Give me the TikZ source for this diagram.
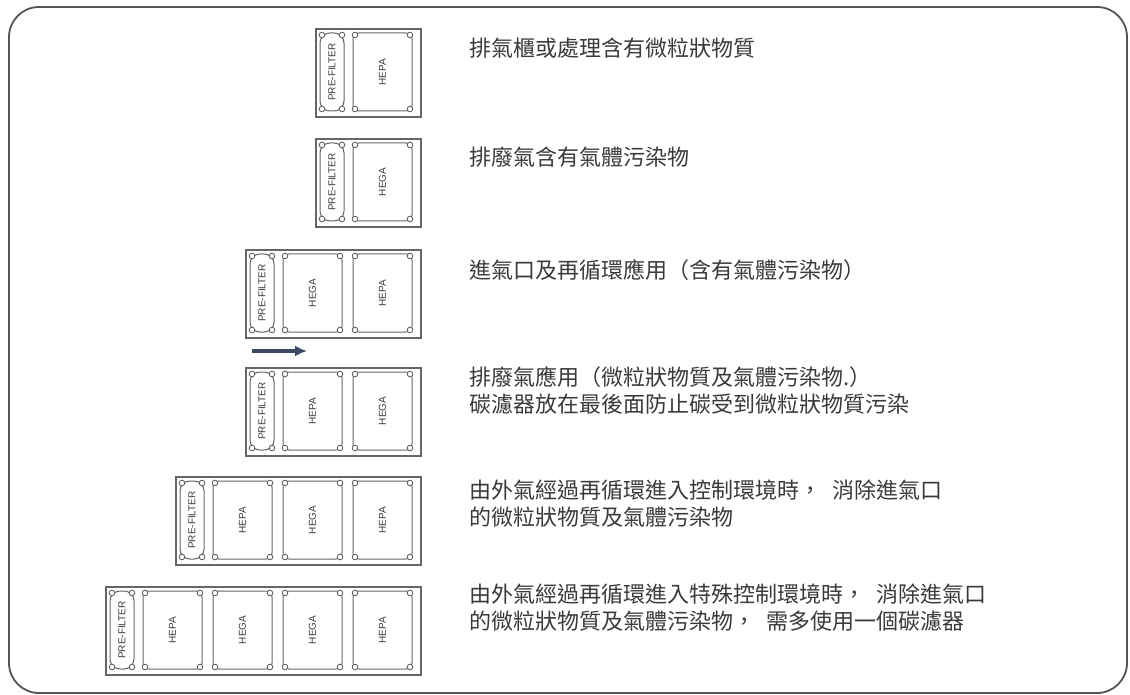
\documentclass[tikz,border=0pt]{standalone}
\usepackage{fontspec}
\setmainfont{Liberation Sans}
\newfontfamily\cjk{Noto Sans CJK TC}
\usetikzlibrary{arrows.meta,calc}

\definecolor{framegray}{HTML}{555555}
\definecolor{linegray}{HTML}{666666}
\definecolor{textgray}{HTML}{3A3A3A}
\definecolor{arrowblue}{HTML}{3B4A63}

\tikzset{
  frame/.style={draw=framegray, line width=1.8pt, rounded corners=30pt},
  bank/.style={draw=linegray, line width=1.6pt},
  panel/.style={draw=linegray, line width=1pt, rounded corners=6pt},
  prefilter/.style={draw=linegray, line width=1pt, rounded corners=10pt},
  bolt/.style={draw=linegray, fill=white, line width=0.9pt},
  tag/.style={rotate=90, inner sep=0pt, text=textgray, font=\fontsize{10}{10}\selectfont},
  note/.style={anchor=west, align=left, inner sep=0pt, text=textgray, font=\cjk\fontsize{22}{27}\selectfont},
  flow/.style={draw=arrowblue, line width=3.4pt, -{Latex[length=12pt,width=11pt]}},
}

% comma with the wide gap of the original lettering
\newcommand{\wcomma}{，\hspace{0.5em}}

% #1 name, #2 top edge, #3 number of panels, #4 panel labels
\newcommand{\filterbank}[4]{%
  \pgfmathsetmacro\bankL{420-35-70*#3}
  \begin{scope}[shift={(\bankL,#2)}]
    \pgfmathsetmacro\bankW{35+70*#3}
    \node[bank, anchor=north west, minimum width=\bankW pt, minimum height=88pt] (#1) at (0,0) {};
    \draw[prefilter] (5,5) rectangle (29,83);
    \foreach \bx/\by in {7/7, 27/7, 7/81, 27/81}
      \draw[bolt] (\bx,\by) circle (2.8pt);
    \node[tag] (#1-pre) at (17,44) {PRE-FILTER};
    \foreach \lab [count=\i from 0] in {#4} {
      \pgfmathsetmacro\px{38+70*\i}
      \draw[panel] (\px,5) rectangle ++(59,78);
      \foreach \bx/\by in {2/2, 57/2, 2/76, 57/76}
        \draw[bolt] ($(\px,5)+(\bx,\by)$) circle (2.8pt);
      \node[tag] (#1-\i) at (\px+29.5,44) {\lab};
    }
  \end{scope}
}

\begin{document}
\begin{tikzpicture}[x=1pt, y=-1pt]
  \fill[white] (0,0) rectangle (1130,695);
  \useasboundingbox (0,0) rectangle (1130,695);
  \draw[frame] (9,7) rectangle (1127,693);

  % filter banks
  \filterbank{bankA}{28}{1}{HEPA}
  \filterbank{bankB}{138}{1}{HEGA}
  \filterbank{bankC}{249}{2}{HEGA, HEPA}
  \filterbank{bankD}{367}{2}{HEPA, HEGA}
  \filterbank{bankE}{476}{3}{HEPA, HEGA, HEPA}
  \filterbank{bankF}{586}{4}{HEPA, HEGA, HEGA, HEPA}

  % air flow
  \coordinate (flowtail) at (252,351);
  \coordinate (flowhead) at (307,351);
  \draw[flow] (flowtail) -- (flowhead);

  % notes
  \node[note] (noteA) at (469,48) {排氣櫃或處理含有微粒狀物質};
  \node[note] (noteB) at (469,157) {排廢氣含有氣體污染物};
  \node[note] (noteC) at (469,270) {進氣口及再循環應用（含有氣體污染物）};
  \node[note] (noteD) at (469,390) {排廢氣應用（微粒狀物質及氣體污染物.）\\碳濾器放在最後面防止碳受到微粒狀物質污染};
  \node[note] (noteE) at (469,504) {由外氣經過再循環進入控制環境時\wcomma 消除進氣口\\的微粒狀物質及氣體污染物};
  \node[note] (noteF) at (469,608) {由外氣經過再循環進入特殊控制環境時\wcomma 消除進氣口\\的微粒狀物質及氣體污染物\wcomma 需多使用一個碳濾器};
\end{tikzpicture}
\end{document}
